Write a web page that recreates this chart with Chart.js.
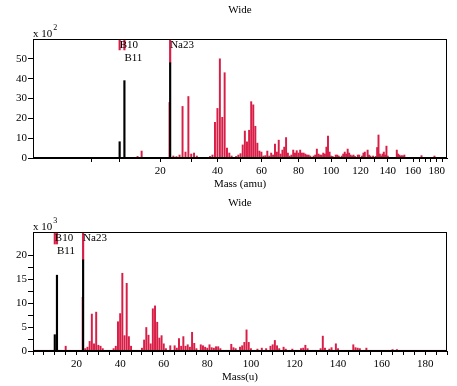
<!DOCTYPE html>
<html>
<head>
<meta charset="utf-8">
<script src="https://cdn.jsdelivr.net/npm/chart.js@4.4.0/dist/chart.umd.min.js"></script>
<style>
  html, body { margin: 0; padding: 0; background: #fff; }
  .box { position: relative; width: 457px; height: 193px; }
</style>
</head>
<body>
<div class="box"><canvas id="top"></canvas></div>
<div class="box"><canvas id="bottom"></canvas></div>
<script>
// top spectrum, intensity in units of 10^2, mass axis drawn on a square-root scale
const topMass = [14, 15, 22.8, 24, 25, 26, 27, 28, 29, 30, 31, 32, 37, 38, 39, 40, 41, 42, 43, 44, 45, 46, 48, 49, 50,
  51, 52, 53, 54, 55, 56, 57, 58, 59, 60, 61, 62, 63, 64, 65, 66, 67, 68, 69, 70, 71, 72, 73, 74, 75, 76, 77, 78, 79, 80,
  81, 82, 83, 84, 85, 86, 87, 89, 90, 91, 92, 93, 94, 95, 96, 97, 98, 99, 100, 101, 103, 104, 105, 107, 108, 109, 110,
  111, 112, 113, 114, 115, 116, 118, 119, 121, 122, 123, 125, 126, 127, 129, 131, 132, 133, 134, 135, 136, 137, 138, 139,
  140, 147, 148, 149, 150, 151, 152, 153, 167, 178];
const topInt = [0.8, 3.5, 28, 1, 0.7, 1.5, 26, 3, 31, 2, 2.5, 1, 0.8, 1.5, 18, 25, 50, 20.5, 43, 5, 2.5, 1, 0.8, 1.5, 2.2,
  6.6, 13.6, 8.2, 14, 28.4, 26.8, 16, 7.5, 3.5, 3, 1, 1.2, 3.5, 1, 2.5, 1.5, 7, 3, 9, 2, 4, 5.5, 10.3, 2.5, 1, 1.5, 4, 2.5, 3.7, 2.5,
  4, 2.5, 2.5, 2, 1.5, 1.5, 1, 1, 1.5, 4.5, 2, 1.5, 1.5, 2.5, 2, 5.5, 11, 3, 1, 0.8, 1.5, 1.5, 1, 1, 2, 3, 2,
  4.5, 2.5, 1.5, 1, 1.5, 0.8, 1.5, 1.5, 1, 2.5, 3, 4, 1.5, 1, 1, 0.8, 5.3, 11.6, 2, 1, 2, 3, 1.5, 6,
  1, 4, 2, 1.5, 1, 1.2, 1, 1.5, 1.2, 1];

// bottom spectrum, intensity in units of 10^3, linear mass axis
const botMass = [15, 22.8, 24, 25, 26, 27, 28, 29, 30, 31, 32, 37, 38, 39, 40, 41, 42, 43, 44, 45, 50, 51, 52, 53, 54, 55,
  56, 57, 58, 59, 60, 61, 63, 65, 66, 67, 68, 69, 70, 71, 72, 73, 74, 75, 77, 78, 79, 80, 81, 82, 83, 84, 85, 86, 91, 92,
  93, 95, 96, 97, 98, 99, 100, 103, 105, 107, 109, 110, 111, 112, 113, 115, 116, 119, 123, 124, 125, 126, 132, 133, 134,
  136, 137, 139, 140, 147, 148, 149, 150, 153, 165, 167];
const botInt = [1, 11.2, 0.5, 0.8, 2, 7.7, 1.5, 8.1, 1.2, 1, 0.5, 0.5, 1, 6.1, 7.8, 16.2, 3.2, 14.1, 3, 1, 0.6, 2.3, 4.9, 3.3, 1.5, 8.8,
  9.4, 6, 2.7, 3.2, 1.5, 0.5, 1.1, 1.1, 0.6, 2.6, 1, 3, 1, 1.3, 0.8, 3.9, 1.6, 0.5, 1.3, 1.1, 0.8, 0.6, 1.3, 0.7, 0.6, 0.9, 0.9, 0.5, 1.4, 0.7,
  0.5, 0.8, 1.1, 1.8, 4.4, 1.8, 0.5, 0.4, 0.6, 0.5, 1, 1.3, 2.2, 1.1, 0.5, 0.8, 0.4, 0.4, 0.5, 0.6, 1.2, 0.5, 0.5, 3.1, 0.6,
  0.4, 0.7, 1.5, 0.5, 1.3, 0.7, 0.6, 0.5, 0.6, 0.3, 0.3];
const noiseFloor = 0.12;

// labelled peaks (black sticks) and the red marker lines hanging from the frame top
const peakNames = ['B10', 'B11', 'Na23'];
const peakMass = [10, 11, 23];
const peakRow = [0, 1, 0];
const topPeak = [8.2, 39, 48];
const botPeak = [3.4, 15.8, 19];
const topMarkLow = [54.5, 54.5, 48];
const botMarkLow = [22.3, 22.3, 19];

const topXTicks = [5, 10, 20, 30, 40, 50, 60, 70, 80, 90, 100, 110, 120, 130, 140, 150, 160, 165, 170, 175, 180, 185];

const red = '#d81e47';
Chart.defaults.font.family = "'Liberation Serif', 'Times New Roman', serif";
Chart.defaults.font.size = 11;
Chart.defaults.color = '#000';

// square-root mass axis for the upper plot
class SqrtScale extends Chart.LinearScale {
  buildTicks() {
    return topXTicks.filter(v => v >= this.min && v <= this.max).map(v => ({ value: v }));
  }
  getPixelForValue(value) {
    if (value === null || value === undefined) return NaN;
    const a = Math.sqrt(this.min), b = Math.sqrt(this.max);
    return this.getPixelForDecimal((Math.sqrt(Math.max(value, 0)) - a) / (b - a));
  }
  getValueForPixel(pixel) {
    const a = Math.sqrt(this.min), b = Math.sqrt(this.max);
    const s = a + this.getDecimalForPixel(pixel) * (b - a);
    return s * s;
  }
}
SqrtScale.id = 'sqrt';
SqrtScale.defaults = {};
Chart.register(SqrtScale);

// frame, exponent label and peak names
const decor = {
  id: 'decor',
  afterDraw(chart, args, opts) {
    const { ctx, chartArea: a, scales } = chart;
    ctx.save();
    ctx.strokeStyle = '#000';
    ctx.lineWidth = 1;
    ctx.strokeRect(Math.round(a.left) + 0.5, Math.round(a.top) + 0.5, Math.round(a.width) - 1, Math.round(a.height) - 1);
    ctx.fillStyle = '#000';
    ctx.textBaseline = 'middle';
    ctx.textAlign = 'left';
    ctx.font = "11px 'Liberation Serif'";
    ctx.fillText('x 10', a.left, a.top - 5);
    const w = ctx.measureText('x 10').width;
    ctx.font = "8px 'Liberation Serif'";
    ctx.fillText(opts.exp, a.left + w + 1, a.top - 11);
    ctx.font = "11px 'Liberation Serif'";
    peakNames.forEach((name, i) => {
      const x = scales.x.getPixelForValue(peakMass[i]);
      ctx.fillText(name, x, a.top + 6.5 + peakRow[i] * 12.5);
    });
    ctx.restore();
  }
};

function spectrum(id, o) {
  const datasets = [
    {
      label: 'peaks',
      data: peakMass.map((m, i) => ({ x: m, y: o.peak[i] })),
      backgroundColor: '#000',
      barThickness: 1.5,
      order: 0
    },
    {
      label: 'marks',
      data: peakMass.map((m, i) => ({ x: m, y: [o.markLow[i], o.yMax] })),
      backgroundColor: red,
      barThickness: 1.5,
      order: 1
    },
    {
      label: 'spectrum',
      data: o.mass.map((m, i) => ({ x: m, y: o.int[i] })),
      backgroundColor: red,
      barThickness: 1.3,
      order: 2
    }
  ];
  if (o.floor !== undefined) {
    datasets.push({
      type: 'line',
      label: 'floor',
      data: [{ x: o.xMin, y: o.floor }, { x: o.xMax, y: o.floor }],
      borderColor: red,
      borderWidth: 1,
      pointRadius: 0,
      order: 3
    });
  }

  return new Chart(document.getElementById(id), {
    type: 'bar',
    data: { datasets },
    options: {
      animation: false,
      responsive: true,
      maintainAspectRatio: false,
      datasets: { bar: { grouped: false } },
      layout: { padding: { left: 0, right: 10, top: 0, bottom: 0 } },
      scales: {
        x: {
          type: o.xType,
          min: o.xMin,
          max: o.xMax,
          offset: false,
          grid: { display: true, drawOnChartArea: false, tickLength: 4, color: '#000', offset: false },
          border: { color: '#000' },
          ticks: {
            stepSize: 5,
            autoSkip: false,
            maxRotation: 0,
            padding: 3,
            callback: v => (v > 0 && v % 20 === 0 ? String(v) : '')
          },
          title: { display: true, text: o.xTitle, padding: { top: 0, bottom: 2 } },
          afterFit: s => { s.height = 35; }
        },
        y: {
          min: 0,
          max: o.yMax,
          grid: { drawOnChartArea: false, tickLength: 5, color: '#000' },
          border: { color: '#000' },
          ticks: {
            stepSize: o.yStep,
            autoSkip: false,
            padding: 1,
            callback: v => (Math.abs(v / o.yLabelStep - Math.round(v / o.yLabelStep)) < 1e-6 ? String(v) : '')
          },
          afterBuildTicks: s => { s.ticks = s.ticks.filter(t => t.value < o.yMax - 0.01); },
          afterFit: s => { s.width = 33; }
        }
      },
      plugins: {
        legend: { display: false },
        tooltip: { enabled: false },
        title: {
          display: true,
          text: 'Wide',
          fullSize: false,
          font: { size: 11, weight: 'normal' },
          padding: { top: 4, bottom: 21.8 }
        },
        decor: { exp: o.exp }
      }
    },
    plugins: [decor]
  });
}

spectrum('top', {
  xType: 'sqrt', xMin: 0.13, xMax: 189, xTitle: 'Mass (amu)',
  yMax: 60, yStep: 10, yLabelStep: 10, exp: '2',
  mass: topMass, int: topInt, peak: topPeak, markLow: topMarkLow
});

spectrum('bottom', {
  xType: 'linear', xMin: 0, xMax: 190, xTitle: 'Mass(u)',
  yMax: 24.8, yStep: 2.5, yLabelStep: 5, exp: '3',
  mass: botMass, int: botInt, peak: botPeak, markLow: botMarkLow, floor: noiseFloor
});
</script>
</body>
</html>
